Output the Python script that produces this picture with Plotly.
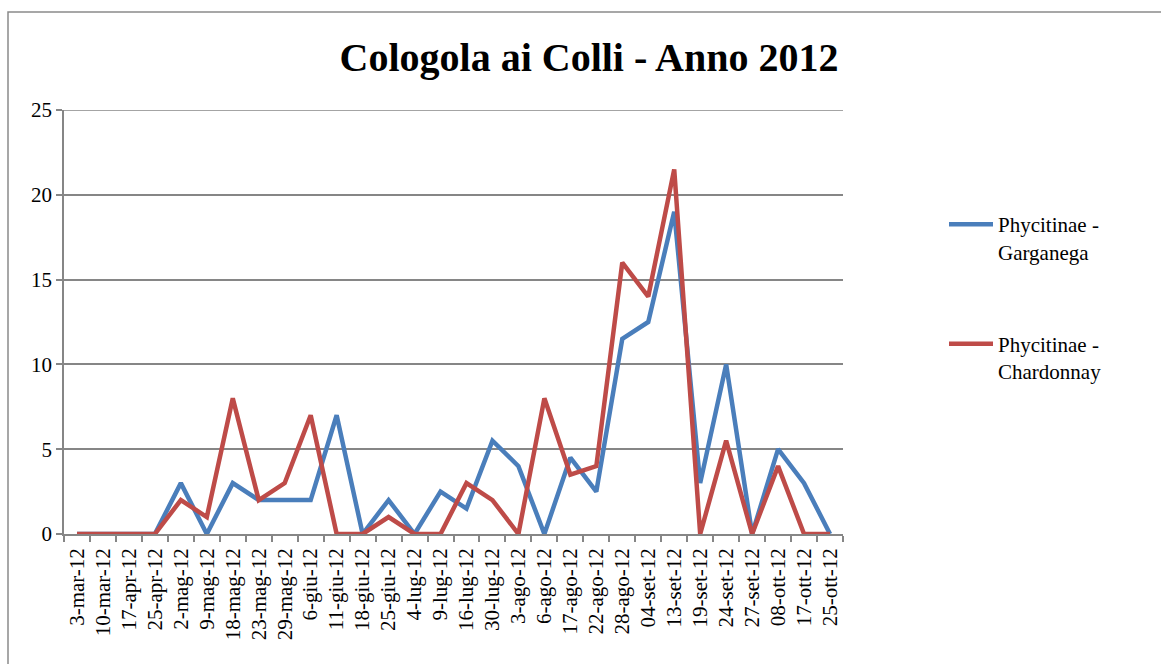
import plotly.graph_objects as go

# Sampling dates (x categories)
dates = [
    "3-mar-12", "10-mar-12", "17-apr-12", "25-apr-12", "2-mag-12", "9-mag-12",
    "18-mag-12", "23-mag-12", "29-mag-12", "6-giu-12", "11-giu-12", "18-giu-12",
    "25-giu-12", "4-lug-12", "9-lug-12", "16-lug-12", "30-lug-12", "3-ago-12",
    "6-ago-12", "17-ago-12", "22-ago-12", "28-ago-12", "04-set-12", "13-set-12",
    "19-set-12", "24-set-12", "27-set-12", "08-ott-12", "17-ott-12", "25-ott-12",
]

# Catches per date
garganega = [0, 0, 0, 0, 3, 0, 3, 2, 2, 2, 7, 0, 2, 0, 2.5, 1.5, 5.5, 4,
             0, 4.5, 2.5, 11.5, 12.5, 19, 3, 10, 0, 5, 3, 0]
chardonnay = [0, 0, 0, 0, 2, 1, 8, 2, 3, 7, 0, 0, 1, 0, 0, 3, 2, 0,
              8, 3.5, 4, 16, 14, 21.5, 0, 5.5, 0, 4, 0, 0]

series_names = ["Phycitinae -<br>Garganega", "Phycitinae -<br>Chardonnay"]
series_colors = ["#4a7ebb", "#be4b48"]
y_ticks = [0, 5, 10, 15, 20, 25]

FONT = "Liberation Serif, Times New Roman, serif"
GRID = "#868686"

W, H = 1161, 664
L, R, T, B = 64, 843, 110, 534  # plot area in pixels

fig = go.Figure()
for i, (name, vals, col) in enumerate(zip(series_names, [garganega, chardonnay], series_colors)):
    fig.add_trace(go.Scatter(
        x=dates, y=vals, mode="lines", name=name,
        legendgroup=f"g{i}",
        line=dict(color=col, width=4.5),
    ))

def px_x(p):
    return (p - L) / (R - L)

def px_y(p):
    return (B - p) / (B - T)

fig.update_layout(
    width=W, height=H,
    margin=dict(l=L, r=W - R, t=T, b=H - B),
    paper_bgcolor="white", plot_bgcolor="white",
    font=dict(family=FONT, color="black"),
    title=dict(
        text="<b>Cologola ai Colli - Anno 2012</b>",
        x=589 / W, xanchor="center", y=1 - 57 / H, yanchor="middle",
        font=dict(size=40, family=FONT, color="black"),
    ),
    showlegend=True,
    legend=dict(
        x=px_x(944), xanchor="left", y=px_y(204), yanchor="top",
        font=dict(size=21, family=FONT, color="black"),
        traceorder="grouped", tracegroupgap=62, valign="top",
        bgcolor="rgba(0,0,0,0)", itemwidth=44,
    ),
    xaxis=dict(
        type="category", tickangle=-90,
        tickmode="linear", tick0=0, dtick=1,
        tickfont=dict(size=21, family=FONT, color="black"),
        showgrid=False, showline=True, linecolor=GRID, linewidth=1.5,
        ticks="outside", tickson="boundaries", ticklen=6, tickcolor=GRID, tickwidth=1.5,
        ticklabelstandoff=4,
        range=[-0.5, len(dates) - 0.5],
    ),
    yaxis=dict(
        range=[0, 25], tickvals=y_ticks,
        tickfont=dict(size=21, family=FONT, color="black"),
        showgrid=True, gridcolor=GRID, gridwidth=1.5,
        showline=True, linecolor=GRID, linewidth=1.5,
        ticks="outside", ticklen=6, tickcolor=GRID, tickwidth=1.5,
        zeroline=False,
    ),
    shapes=[
        # gridline at the top of the value axis
        dict(type="line", xref="paper", yref="y", x0=0, x1=1, y0=25, y1=25,
             line=dict(color=GRID, width=1.5), layer="below"),
        # outer chart border
        dict(type="rect", xref="paper", yref="paper",
             x0=px_x(8), x1=px_x(1200), y0=px_y(700), y1=px_y(12),
             line=dict(color="#8a8a8a", width=1.5), fillcolor="rgba(0,0,0,0)",
             layer="below"),
    ],
)

fig.write_html("out.html")
